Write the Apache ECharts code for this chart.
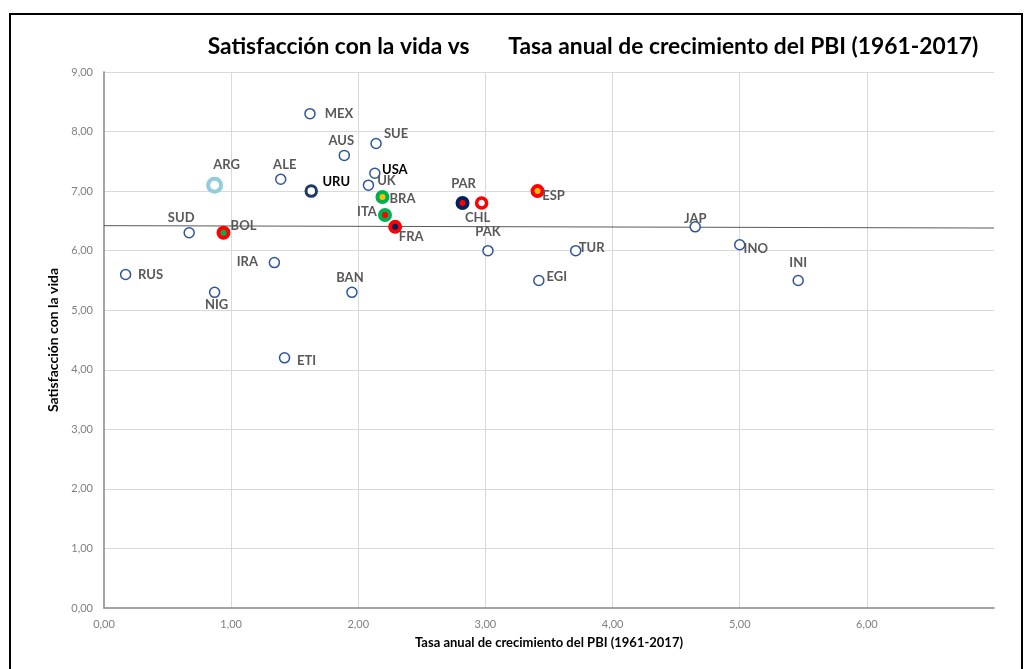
<!DOCTYPE html>
<html>
<head>
<meta charset="utf-8">
<script src="https://cdn.jsdelivr.net/npm/echarts@6/dist/echarts.min.js"></script>
<style>
  html, body { margin: 0; padding: 0; background: #fff; }
  #chart { width: 1032px; height: 669px; }
</style>
</head>
<body>
<div id="chart"></div>
<script>
// ---- Data ----
const countries = ['RUS','SUD','NIG','ARG','BOL','IRA','ALE','ETI','URU','MEX','AUS','BAN','SUE','USA','UK','BRA','ITA','FRA','PAR','CHL','PAK','ESP','EGI','TUR','JAP','INO','INI'];
const gdpGrowth = [0.17,0.67,0.87,0.87,0.94,1.34,1.39,1.42,1.63,1.62,1.89,1.95,2.14,2.13,2.08,2.19,2.21,2.29,2.82,2.97,3.02,3.41,3.42,3.71,4.65,5.00,5.46];
const lifeSatisfaction = [5.6,6.3,5.3,7.1,6.3,5.8,7.2,4.2,7.0,8.3,7.6,5.3,7.8,7.3,7.1,6.9,6.6,6.4,6.8,6.8,6.0,7.0,5.5,6.0,6.4,6.1,5.5];
const trendX = [0, 7];
const trendY = [6.42, 6.38];
const xTicks = [0,1,2,3,4,5,6];
const yTicks = [0,1,2,3,4,5,6,7,8,9];

// ---- Styling (kept separate from data) ----
const FONT = 'Lato, "Open Sans", sans-serif';
const RED = '#ff0000', GREEN = '#00b050', YELLOW = '#ffc000', NAVY = '#002060';
const specialMarkers = {
  ARG: { fill: '#ffffff', ring: '#92cddc', size: 13, width: 4 },
  URU: { fill: '#ffffff', ring: '#1f3864', size: 10.5, width: 3 },
  BOL: { fill: GREEN, ring: RED, size: 10, width: 4 },
  BRA: { fill: YELLOW, ring: GREEN, size: 10, width: 4 },
  ITA: { fill: RED, ring: GREEN, size: 10, width: 4 },
  FRA: { fill: NAVY, ring: RED, size: 10, width: 4 },
  PAR: { fill: RED, ring: NAVY, size: 10, width: 4 },
  CHL: { fill: '#ffffff', ring: RED, size: 10, width: 3.5 },
  ESP: { fill: YELLOW, ring: RED, size: 10, width: 4 }
};
// label centre shift relative to the marker centre, in px [dx, dy]
const labelShift = {
  RUS: [25, 0],  SUD: [-8, -15], NIG: [2, 12],  ARG: [12, -20], BOL: [20, -7],
  IRA: [-27, -1], ALE: [4, -14], ETI: [22, 3],  URU: [25, -9],  MEX: [29, 0],
  AUS: [-3, -15], BAN: [-2, -15], SUE: [20, -10], USA: [20, -3], UK: [18, -4],
  BRA: [20, 2],  ITA: [-18, -3], FRA: [16, 10], PAR: [1, -19], CHL: [-4, 15],
  PAK: [0, -19], ESP: [16, 5],   EGI: [18, -4], TUR: [16, -3], JAP: [0, -8],
  INO: [16, 4],  INI: [0, -18]
};
const darkLabels = ['URU', 'USA'];

const fmt = v => v.toFixed(2).replace('.', ',');

const points = countries.map((name, i) => {
  const sp = specialMarkers[name];
  return {
    name: name,
    value: [gdpGrowth[i], lifeSatisfaction[i]],
    symbolSize: sp ? sp.size : 10,
    itemStyle: sp
      ? { color: sp.fill, borderColor: sp.ring, borderWidth: sp.width, opacity: 1 }
      : { color: '#ffffff', borderColor: '#2f5597', borderWidth: 1.5, opacity: 1 },
    label: {
      show: true,
      formatter: name,
      position: 'inside',
      align: 'center',
      verticalAlign: 'middle',
      color: darkLabels.includes(name) ? '#000000' : '#595959',
      fontWeight: 'bold',
      fontSize: 13,
      fontFamily: FONT
    }
  };
});

const chart = echarts.init(document.getElementById('chart'), null, { renderer: 'canvas' });
chart.setOption({
  backgroundColor: '#ffffff',
  animation: false,
  title: {
    text: 'Satisfacción con la vida vs       Tasa anual de crecimiento del PBI (1961-2017)',
    left: 588,
    top: 30,
    textAlign: 'center',
    textStyle: { fontFamily: FONT, fontSize: 22.8, fontWeight: 'bold', color: '#000000' }
  },
  graphic: [{
    type: 'rect',
    shape: { x: 10, y: 14, width: 1012, height: 700 },
    style: { fill: 'none', stroke: '#000000', lineWidth: 2 },
    silent: true
  }],
  grid: { left: 104, right: 38, top: 72, bottom: 61 },
  xAxis: {
    type: 'value',
    min: xTicks[0],
    max: 7,
    interval: 1,
    name: 'Tasa anual de crecimiento del PBI (1961-2017)',
    nameLocation: 'middle',
    nameGap: 28,
    nameTextStyle: { fontFamily: FONT, fontSize: 13, fontWeight: 'bold', color: '#000000', verticalAlign: 'top' },
    axisLine: { show: true, lineStyle: { color: '#868686', width: 1.5 } },
    axisTick: { show: false },
    axisLabel: {
      fontFamily: FONT, fontSize: 11, color: '#7f7f7f', margin: 11,
      formatter: v => (xTicks.includes(v) ? fmt(v) : '')
    },
    splitLine: { show: true, showMinLine: false, showMaxLine: false, lineStyle: { color: '#d9d9d9', width: 1 } }
  },
  yAxis: {
    type: 'value',
    min: yTicks[0],
    max: yTicks[yTicks.length - 1],
    interval: 1,
    name: 'Satisfacción con la vida',
    nameLocation: 'middle',
    nameGap: 42,
    nameRotate: 90,
    nameTextStyle: { fontFamily: FONT, fontSize: 14, fontWeight: 'bold', color: '#000000' },
    axisLine: { show: true, lineStyle: { color: '#868686', width: 1.5 } },
    axisTick: { show: false },
    axisLabel: { fontFamily: FONT, fontSize: 11, color: '#7f7f7f', margin: 11, formatter: v => fmt(v) },
    splitLine: { show: true, showMinLine: false, lineStyle: { color: '#d9d9d9', width: 1 } }
  },
  series: [
    {
      type: 'line',
      data: trendX.map((x, i) => [x, trendY[i]]),
      symbol: 'none',
      lineStyle: { color: '#595959', width: 1 },
      silent: true,
      z: 1
    },
    {
      type: 'scatter',
      data: points,
      z: 3,
      labelLayout: function (params) {
        const s = labelShift[countries[params.dataIndex]] || [0, 0];
        return { dx: s[0], dy: s[1], hideOverlap: false };
      }
    }
  ]
});
</script>
</body>
</html>
